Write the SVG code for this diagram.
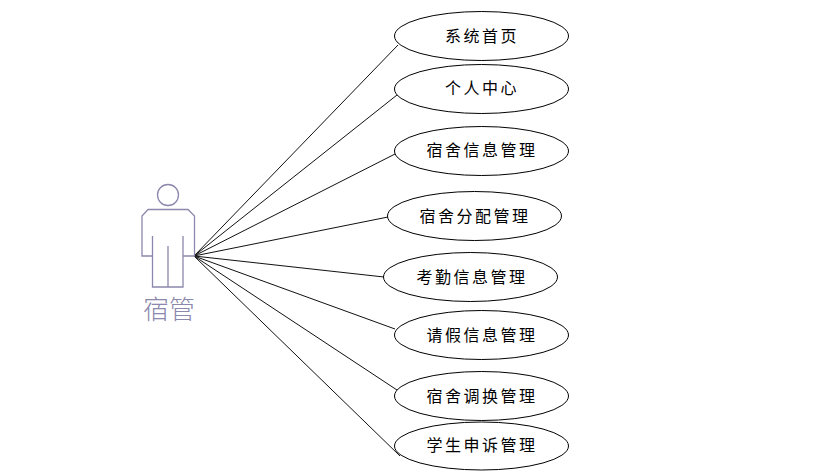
<svg xmlns="http://www.w3.org/2000/svg" width="815" height="475" viewBox="0 0 815 475">
<style>
.u{fill:#fff;stroke:#000;stroke-width:1}
.l{fill:#000;font-family:"Liberation Sans","Noto Sans CJK SC",sans-serif;font-size:16px;letter-spacing:2.500px;text-anchor:middle}
.a{fill:none;stroke:#8c88ad;stroke-width:1.3}
.c line{stroke:#111;stroke-width:1}
</style>
<rect width="815" height="475" fill="#fff"/>
<g id="connectors" class="c">
<line x1="194" y1="256" x2="398" y2="45"/>
<line x1="194" y1="256" x2="397" y2="95"/>
<line x1="194" y1="256" x2="397" y2="153"/>
<line x1="194" y1="256" x2="388" y2="217"/>
<line x1="194" y1="256" x2="384" y2="277"/>
<line x1="194" y1="256" x2="395" y2="329"/>
<line x1="194" y1="256" x2="397" y2="390"/>
<line x1="194" y1="256" x2="400" y2="456"/>
</g>
<g id="actor">
<circle class="a" cx="168" cy="195" r="10.5"/>
<path class="a" d="M148 209.500H188L194.500 216V256H183V287H152.500V256H142V216ZM152.500 256V236M183 256V236M168 287V246"/>
<text x="169" y="319" font-family="'Liberation Serif','Noto Sans CJK SC',sans-serif" font-size="26" font-weight="300" fill="#8c88ad" text-anchor="middle">宿管</text>
</g>
<g id="n1"><ellipse class="u" cx="481.500" cy="36" rx="87" ry="24.500"/><text class="l" x="482" y="42">系统首页</text></g>
<g id="n2"><ellipse class="u" cx="481.500" cy="89" rx="87" ry="24.500"/><text class="l" x="482" y="94">个人中心</text></g>
<g id="n3"><ellipse class="u" cx="481.500" cy="151" rx="87" ry="24.500"/><text class="l" x="482" y="156">宿舍信息管理</text></g>
<g id="n4"><ellipse class="u" cx="474.500" cy="216" rx="87" ry="24.500"/><text class="l" x="475" y="222">宿舍分配管理</text></g>
<g id="n5"><ellipse class="u" cx="470.500" cy="277" rx="87" ry="24.500"/><text class="l" x="472" y="283">考勤信息管理</text></g>
<g id="n6"><ellipse class="u" cx="481.500" cy="335" rx="87" ry="24.500"/><text class="l" x="482" y="341">请假信息管理</text></g>
<g id="n7"><ellipse class="u" cx="481.500" cy="396" rx="87" ry="24.500"/><text class="l" x="482" y="402">宿舍调换管理</text></g>
<g id="n8"><ellipse class="u" cx="481.500" cy="446" rx="87" ry="24"/><text class="l" x="482" y="451">学生申诉管理</text></g>
</svg>
